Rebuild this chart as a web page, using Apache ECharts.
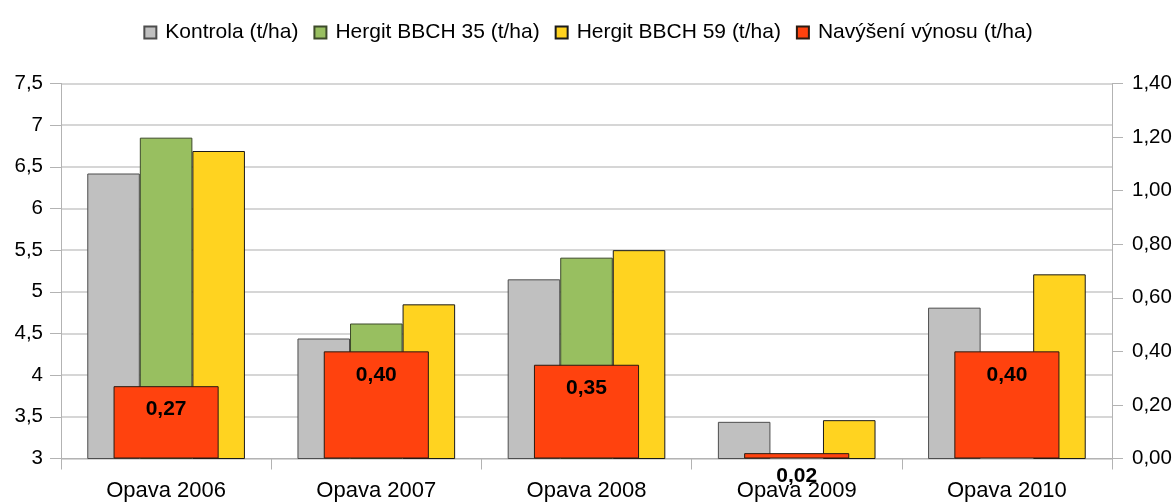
<!DOCTYPE html>
<html>
<head>
<meta charset="utf-8">
<script src="https://cdn.jsdelivr.net/npm/echarts@6/dist/echarts.min.js"></script>
<style>
html,body{margin:0;padding:0;background:#fff;}
#c{width:1176px;height:502px;}
</style>
</head>
<body>
<div id="c"></div>
<script>
const categories = ['Opava 2006', 'Opava 2007', 'Opava 2008', 'Opava 2009', 'Opava 2010'];
const kontrola = [6.42, 4.44, 5.15, 3.44, 4.81];
const bbch35 = [6.85, 4.62, 5.41, null, null];
const bbch59 = [6.69, 4.85, 5.50, 3.46, 5.21];
const navyseni = [0.27, 0.40, 0.35, 0.02, 0.40];
const seriesNames = ['Kontrola (t/ha)', 'Hergit BBCH 35 (t/ha)', 'Hergit BBCH 59 (t/ha)', 'Navýšení výnosu (t/ha)'];
const leftAxis = { min: 3, max: 7.5, interval: 0.5 };
const rightAxis = { min: 0, max: 1.4, interval: 0.2 };

const FONT = 'Liberation Sans, Arial, sans-serif';
const axisGray = '#b3b3b3';
const chart = echarts.init(document.getElementById('c'));

function barSeries(name, data, color, border) {
  return {
    name: name, type: 'bar', data: data,
    xAxisIndex: 0, yAxisIndex: 0,
    barWidth: '25%', barGap: '0%',
    itemStyle: { color: color, borderColor: border, borderWidth: 1 }
  };
}

chart.setOption({
  animation: false,
  textStyle: { fontFamily: FONT, color: '#000' },
  legend: {
    top: 17, left: 'center',
    itemWidth: 12, itemHeight: 12, itemGap: 15,
    icon: 'rect',
    textStyle: { fontSize: 21, fontFamily: FONT, color: '#000', padding: [0, 0, 0, 4] },
    data: seriesNames
  },
  grid: { left: 61, right: 64, top: 83.5, bottom: 43.5 },
  xAxis: [
    {
      type: 'category', data: categories,
      axisLine: { lineStyle: { color: axisGray } },
      axisTick: { show: true, length: 11, lineStyle: { color: axisGray } },
      axisLabel: { fontSize: 22, color: '#000', margin: 21, fontFamily: FONT }
    },
    {
      type: 'category', data: categories, show: false
    }
  ],
  yAxis: [
    {
      type: 'value', min: leftAxis.min, max: leftAxis.max, interval: leftAxis.interval,
      axisLine: { show: true, lineStyle: { color: axisGray } },
      axisTick: { show: true, length: 11, lineStyle: { color: axisGray } },
      splitLine: { show: true, lineStyle: { color: '#c8c8c8', width: 1.5 } },
      axisLabel: { fontSize: 20.5, color: '#000', margin: 18, fontFamily: FONT,
        formatter: v => String(v).replace('.', ',') }
    },
    {
      type: 'value', min: rightAxis.min, max: rightAxis.max, interval: rightAxis.interval,
      position: 'right',
      axisLine: { show: true, lineStyle: { color: axisGray } },
      axisTick: { show: true, length: 11, lineStyle: { color: axisGray } },
      splitLine: { show: false },
      axisLabel: { fontSize: 20.5, color: '#000', margin: 20, fontFamily: FONT,
        formatter: v => v.toFixed(2).replace('.', ',') }
    }
  ],
  series: [
    barSeries(seriesNames[0], kontrola, '#c0c0c0', '#4d4d4d'),
    barSeries(seriesNames[1], bbch35, '#98bf60', '#3d4a2a'),
    barSeries(seriesNames[2], bbch59, '#ffd320', '#1a1a1a'),
    {
      name: seriesNames[3], type: 'bar', data: navyseni,
      xAxisIndex: 1, yAxisIndex: 1,
      barWidth: '50%',
      itemStyle: { color: '#ff420e', borderColor: '#2a1a10', borderWidth: 1 },
      label: {
        show: true, position: 'insideTop', distance: 13,
        fontSize: 21, fontWeight: 'bold', color: '#000', fontFamily: FONT,
        formatter: p => p.value.toFixed(2).replace('.', ',')
      },
      z: 3
    }
  ]
});
</script>
</body>
</html>
